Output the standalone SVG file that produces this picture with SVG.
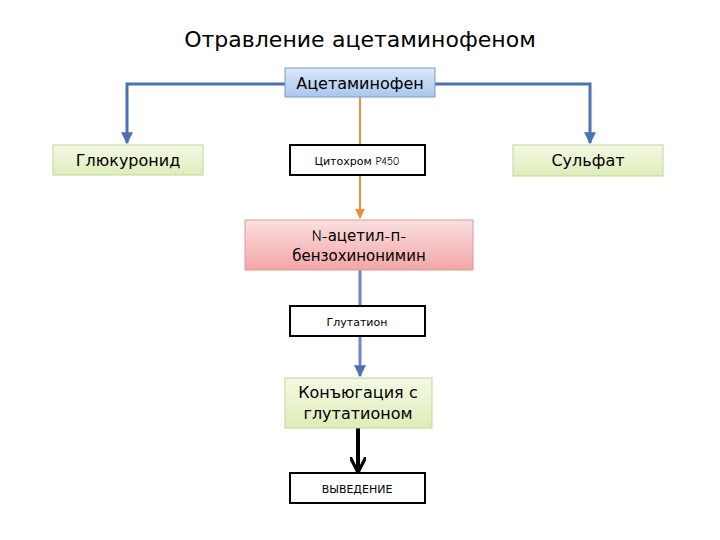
<svg xmlns="http://www.w3.org/2000/svg" width="720" height="540" viewBox="0 0 720 540">
<defs>
<linearGradient id="gb" x1="0" y1="0" x2="0" y2="1"><stop offset="0" stop-color="#dce8f8"/><stop offset="1" stop-color="#a9c6ee"/></linearGradient>
<linearGradient id="gg" x1="0" y1="0" x2="0" y2="1"><stop offset="0" stop-color="#f4f9e4"/><stop offset="1" stop-color="#deedb8"/></linearGradient>
<linearGradient id="gr" x1="0" y1="0" x2="0" y2="1"><stop offset="0" stop-color="#fbe0e0"/><stop offset="1" stop-color="#f2a6a6"/></linearGradient>
<marker id="ab" viewBox="0 0 10 10" refX="9" refY="5" markerWidth="4" markerHeight="4" orient="auto"><path d="M0,0L10,5L0,10z" fill="#4a72b0"/></marker>
<marker id="ao" viewBox="0 0 10 10" refX="9" refY="5" markerWidth="5" markerHeight="5" orient="auto"><path d="M0,0L10,5L0,10z" fill="#f0903a"/></marker>
<marker id="ak" viewBox="0 0 10 10" refX="9" refY="5" markerWidth="4" markerHeight="4" orient="auto"><path d="M0,0L10,5L0,10" fill="none" stroke="#000" stroke-width="2"/></marker>
</defs>
<style>
text{font-family:"Comic Neue","DejaVu Sans",sans-serif;text-anchor:middle;fill:#000}
.g{fill:url(#gg);stroke:#c3d69b;stroke-width:1}
.w{fill:#fff;stroke:#000;stroke-width:2}
</style>
<text x="360" y="47" font-size="22">Отравление ацетаминофеном</text>
<g id="connectors" fill="none">
<path d="M285,84H127V143" stroke="#4a72b0" stroke-width="3" marker-end="url(#ab)"/>
<path d="M435,84H590V143" stroke="#4a72b0" stroke-width="3" marker-end="url(#ab)"/>
<path d="M360,97V218" stroke="#f0903a" stroke-width="2" marker-end="url(#ao)"/>
<path d="M360,270V376" stroke="#6a8cbf" stroke-width="3" marker-end="url(#ab)"/>
<path d="M358,428V471" stroke="#000" stroke-width="4" marker-end="url(#ak)"/>
</g>
<g id="acet"><rect x="285" y="68" width="150" height="29" fill="url(#gb)" stroke="#7a9cc8"/><text x="360" y="89" font-size="16">Ацетаминофен</text></g>
<g id="gluc"><rect x="53" y="145" width="150" height="30" class="g"/><text x="128" y="166" font-size="16">Глюкуронид</text></g>
<g id="sulf"><rect x="513" y="145" width="150" height="31" class="g"/><text x="588" y="166" font-size="16">Сульфат</text></g>
<g id="cyto"><rect x="290" y="145" width="135" height="30" class="w"/><text x="357" y="165" font-size="11">Цитохром P450</text></g>
<g id="napqi"><rect x="245" y="220" width="228" height="50" fill="url(#gr)" stroke="#d99"/><text x="359" y="241" font-size="15">N-ацетил-п-</text><text x="359" y="261" font-size="15">бензохинонимин</text></g>
<g id="glut"><rect x="290" y="306" width="135" height="30" class="w"/><text x="357" y="326" font-size="11">Глутатион</text></g>
<g id="conj"><rect x="285" y="378" width="147" height="50" class="g"/><text x="358" y="398" font-size="16">Конъюгация с</text><text x="358" y="419" font-size="16">глутатионом</text></g>
<g id="out"><rect x="290" y="473" width="135" height="30" class="w"/><text x="357" y="493" font-size="11">ВЫВЕДЕНИЕ</text></g>
</svg>
